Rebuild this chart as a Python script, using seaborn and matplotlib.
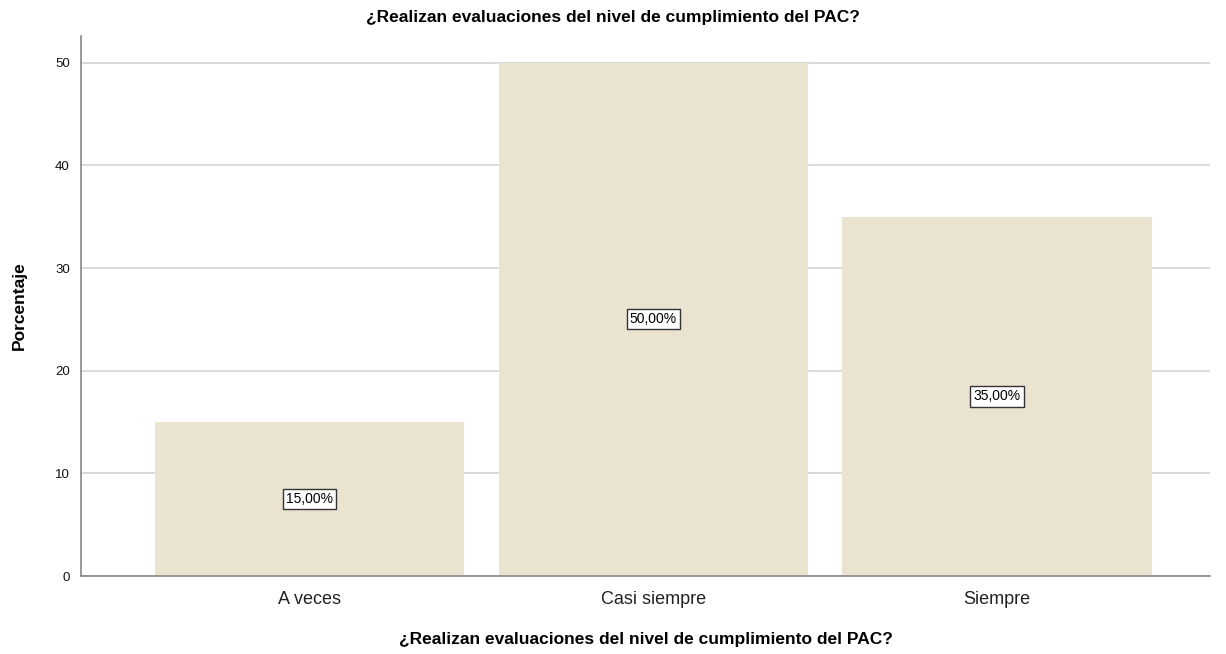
import pandas as pd
import matplotlib.pyplot as plt
import seaborn as sns

categories = ['A veces', 'Casi siempre', 'Siempre']
percentages = [15.0, 50.0, 35.0]
title = '¿Realizan evaluaciones del nivel de cumplimiento del PAC?'

df = pd.DataFrame({'cat': categories, 'pct': percentages})

sns.set_theme(style='white')
plt.rcParams['font.family'] = ['Liberation Sans', 'DejaVu Sans']

fig = plt.figure(figsize=(12.26, 6.54), dpi=100)
ax = fig.add_axes([0.066, 0.119, 0.921, 0.826])

ax.set_axisbelow(True)
ax.yaxis.grid(True, color='#d3d3d3', linewidth=1.2)
sns.barplot(data=df, x='cat', y='pct', color='#e9e3d0', saturation=1,
            width=0.9, linewidth=0, ax=ax)

for i, v in enumerate(percentages):
    ax.text(i, v / 2, f'{v:.2f}%'.replace('.', ','), ha='center', va='center',
            fontsize=10, color='black',
            bbox=dict(boxstyle='square,pad=0.22', facecolor='white',
                      edgecolor='#333333', linewidth=1))

ax.set_xlim(-0.665, 2.62)
ax.set_ylim(0, 52.6)
ax.set_yticks([0, 10, 20, 30, 40, 50])
ax.tick_params(axis='y', labelsize=9.5, length=0, pad=8, colors='#111111')
ax.tick_params(axis='x', labelsize=13, length=0, pad=11, colors='#222222')

for s in ['top', 'right']:
    ax.spines[s].set_visible(False)
for s in ['left', 'bottom']:
    ax.spines[s].set_color('#888888')
    ax.spines[s].set_linewidth(1.2)

ax.set_ylabel('Porcentaje', fontsize=12.5, fontweight='bold', labelpad=20,
              color='black')
ax.set_xlabel(title, fontsize=12.5, fontweight='bold', labelpad=17,
              color='black')
fig.suptitle(title, fontsize=12.5, fontweight='bold', y=0.985, color='black')

fig.savefig('out.png', dpi=100)
